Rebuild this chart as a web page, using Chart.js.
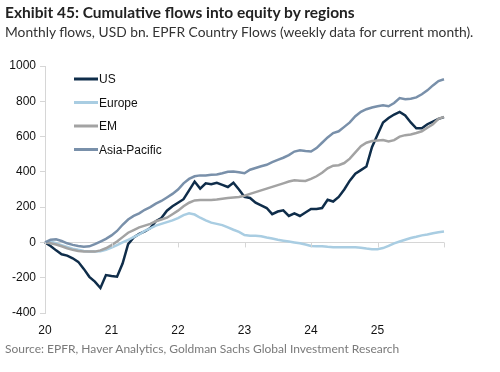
<!DOCTYPE html>
<html>
<head>
<meta charset="utf-8">
<script src="https://cdn.jsdelivr.net/npm/chart.js@4.4.1/dist/chart.umd.min.js"></script>
<style>
    html, body { margin: 0; padding: 0; background: #fff; }
    #wrap { position: relative; width: 500px; height: 372px; overflow: hidden; }
    #chart { position: absolute; left: 0; top: 0; }
    .txt { position: absolute; left: 5px; white-space: nowrap; font-family: Lato, "Noto Sans", sans-serif; }
    #title { top: 3px; font-size: 15.5px; font-weight: bold; color: #222; }
    #subtitle { top: 23px; font-size: 13.8px; color: #333; }
    #source { top: 341px; font-size: 12px; color: #7a7a7a; }
</style>
</head>
<body>
<div id="wrap">
    <canvas id="chart" width="500" height="372"></canvas>
    <div id="title" class="txt">Exhibit 45: Cumulative flows into equity by regions</div>
    <div id="subtitle" class="txt">Monthly flows, USD bn. EPFR Country Flows (weekly data for current month).</div>
    <div id="source" class="txt">Source: EPFR, Haver Analytics, Goldman Sachs Global Investment Research</div>
</div>
<script>
// 月次ラベル（2020年1月〜2026年1月）
const months = [];
for (let y = 20; y <= 26; y++) {
    for (let m = 1; m <= 12; m++) {
        if (y === 26 && m > 1) break;
        months.push(y + '-' + m);
    }
}
const yTicks = [1000, 800, 600, 400, 200, 0, -200, -400];

// 累積フロー（USD bn）
const usFlows = [0, -20, -45, -67, -75, -90, -110, -150, -195, -222, -258, -185,
    -190, -194, -120, -10, 28, 48, 62, 82, 120, 138, 180, 205,
    225, 245, 295, 345, 305, 335, 330, 338, 326, 314, 338, 300,
    258, 252, 225, 210, 195, 160, 175, 182, 150, 165, 150, 170,
    190, 190, 195, 242, 232, 258, 300, 350, 390, 410, 430, 540,
    610, 680, 705, 725, 740, 720, 680, 647, 647, 670, 685, 700, 710];
const europeFlows = [0, 5, -5, -15, -25, -35, -42, -48, -52, -52, -50, -42,
    -30, -15, 0, 15, 30, 45, 65, 80, 95, 105, 115, 125,
    138, 155, 165, 158, 140, 125, 112, 105, 98, 85, 72, 60,
    42, 38, 38, 35, 28, 22, 15, 10, 5, 0, -5, -12,
    -20, -22, -22, -25, -27, -27, -28, -28, -28, -30, -35, -38,
    -38, -32, -20, -5, 5, 15, 25, 32, 40, 45, 52, 58, 62];
const emFlows = [0, -5, -12, -22, -33, -42, -48, -52, -52, -52, -45, -33,
    -15, 5, 30, 55, 70, 85, 95, 105, 120, 130, 140, 160,
    180, 205, 225, 238, 240, 240, 240, 243, 248, 252, 255, 258,
    265, 275, 285, 295, 305, 315, 325, 335, 345, 352, 350, 348,
    360, 375, 395, 420, 435, 438, 450, 475, 510, 545, 565, 575,
    578, 580, 572, 580, 600, 608, 612, 620, 630, 650, 670, 700, 712];
const asiaFlows = [0, 15, 18, 8, -5, -14, -20, -25, -22, -10, 5, 20,
    40, 65, 100, 130, 150, 165, 185, 200, 220, 235, 255, 275,
    300, 335, 360, 375, 380, 380, 383, 385, 392, 400, 402, 398,
    392, 412, 422, 432, 440, 455, 468, 480, 495, 515, 522, 518,
    515, 535, 565, 595, 620, 630, 655, 680, 715, 740, 755, 765,
    772, 778, 772, 790, 818, 812, 815, 822, 840, 862, 890, 915, 925];

const seriesNames = ['US', 'Europe', 'EM', 'Asia-Pacific'];
const seriesColors = ['#0f2d4a', '#a9cde2', '#a3a3a3', '#7990aa'];
const seriesValues = [usFlows, europeFlows, emFlows, asiaFlows];

const axisGrey = '#d6d6d6';
const axisFont = { family: '"Liberation Sans", Arial, sans-serif', size: 12 };
Chart.defaults.font.family = '"Liberation Sans", Arial, sans-serif';

// ゼロ線上の年目盛りと凡例を描くプラグイン
const extrasPlugin = {
    id: 'extras',
    afterDatasetsDraw(chart) {
        const ctx = chart.ctx;
        const xs = chart.scales.x;
        const ys = chart.scales.y;
        const y0 = ys.getPixelForValue(0);
        ctx.save();
        ctx.strokeStyle = axisGrey;
        ctx.lineWidth = 1;
        months.forEach((m, i) => {
            if (i % 12 !== 0) return;
            const px = Math.round(xs.getPixelForValue(i)) + 0.5;
            ctx.beginPath();
            ctx.moveTo(px, y0);
            ctx.lineTo(px, y0 + 5);
            ctx.stroke();
        });
        // 凡例（US → Asia-Pacific の順）
        ctx.font = '12px "Liberation Sans", Arial, sans-serif';
        ctx.textBaseline = 'middle';
        ctx.fillStyle = '#111';
        seriesNames.forEach((name, i) => {
            const ly = 79 + i * 23.5;
            ctx.strokeStyle = seriesColors[i];
            ctx.lineWidth = 3;
            ctx.beginPath();
            ctx.moveTo(74, ly);
            ctx.lineTo(98, ly);
            ctx.stroke();
            ctx.fillText(name, 99, ly + 1);
        });
        ctx.restore();
    }
};

const ctx = document.getElementById('chart').getContext('2d');
new Chart(ctx, {
    type: 'line',
    data: {
        labels: months,
        // USを最前面に描くため逆順
        datasets: seriesNames.map((name, i) => ({
            label: name,
            data: seriesValues[i],
            borderColor: seriesColors[i],
            borderWidth: 2.5,
            pointRadius: 0,
            tension: 0,
            fill: false
        })).reverse()
    },
    options: {
        responsive: false,
        animation: false,
        layout: { padding: { left: 0, right: 56, top: 66, bottom: 34 } },
        plugins: { legend: { display: false }, tooltip: { enabled: false } },
        scales: {
            x: {
                type: 'category',
                offset: false,
                grid: { display: false },
                border: { display: false },
                ticks: {
                    autoSkip: false,
                    maxRotation: 0,
                    padding: 2,
                    color: '#111',
                    font: axisFont,
                    callback: (v, i) => (i % 12 === 0 && i < months.length - 1) ? months[i].split('-')[0] : ''
                },
                afterFit: (s) => { s.height = 25; }
            },
            y: {
                min: -400,
                max: 1000,
                afterBuildTicks: (s) => { s.ticks = yTicks.map(v => ({ value: v })); },
                grid: {
                    color: (c) => (c.tick && c.tick.value === 0) ? axisGrey : 'rgba(0,0,0,0)',
                    tickColor: axisGrey,
                    tickLength: 5,
                    lineWidth: 1
                },
                border: { display: true, color: axisGrey },
                ticks: { padding: 4, color: '#111', font: axisFont, callback: (v) => String(v) },
                afterFit: (s) => { s.width = 45; }
            }
        }
    },
    plugins: [extrasPlugin]
});
</script>
</body>
</html>
